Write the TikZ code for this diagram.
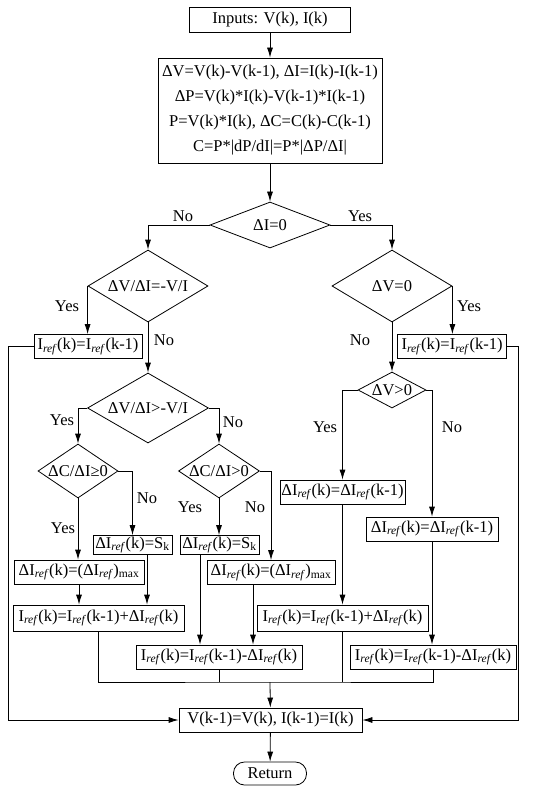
\documentclass[tikz,border=0pt]{standalone}
\usepackage{fontspec}
\setmainfont{Liberation Serif}
\usepackage{tikz}
\usetikzlibrary{shapes,arrows.meta,positioning}
\tikzset{
	box/.style = {
		draw, rectangle, line width=0.8pt, inner sep=1pt, minimum height=24pt
	}
}
\tikzset{
	decision/.style = {
		draw, diamond, line width=0.8pt, inner sep=0pt
	}
}
\tikzset{
	flow/.style = {
		line width=0.8pt, -{Latex[length=10pt,width=6pt]}
	}
}
\tikzset{
	wire/.style = {
		line width=0.8pt
	}
}
\tikzset{
	answer/.style = {
		inner sep=0pt
	}
}
\newcommand{\Iref}{I\textsubscript{\textit{ref}}}

\begin{document}
\begin{tikzpicture}[x=1pt, y=-1pt, font=\fontsize{16.5}{25}\selectfont]
	\useasboundingbox (0,0) rectangle (537,789);
	\node[box, minimum width=161pt, minimum height=25pt](inputs) at (270,19.5) {Inputs: V(k), I(k)};
	\node[box, minimum width=224pt, minimum height=105pt, align=center](deltas) at (270,110.5) {ΔV=V(k)-V(k-1), ΔI=I(k)-I(k-1)\\
		ΔP=V(k)*I(k)-V(k-1)*I(k-1)\\
		P=V(k)*I(k), ΔC=C(k)-C(k-1)\\
		C=P*|dP/dI|=P*|ΔP/ΔI|};
	\node[decision, minimum width=120pt, minimum height=46pt](dI) at (270,225) {\makebox[0pt]{ΔI=0}};
	\node[decision, minimum width=120pt, minimum height=72pt](dVI1) at (148,286) {\makebox[0pt]{ΔV/ΔI=-V/I}};
	\node[decision, minimum width=120pt, minimum height=72pt](dV0) at (392,286) {\makebox[0pt]{ΔV=0}};
	\node[box, minimum width=108pt](refL) at (88,346.5) {\Iref(k)=\Iref(k-1)};
	\node[box, minimum width=109pt](refR) at (452,346.5) {\Iref(k)=\Iref(k-1)};
	\node[decision, minimum width=121pt, minimum height=70pt](dVI2) at (148,408) {\makebox[0pt]{ΔV/ΔI>-V/I}};
	\node[decision, minimum width=68pt, minimum height=36pt](dV1) at (392,390) {\makebox[0pt]{ΔV>0}};
	\node[decision, minimum width=80pt, minimum height=54pt](dC1) at (78,471) {\makebox[0pt]{ΔC/ΔI≥0}};
	\node[decision, minimum width=81pt, minimum height=54pt](dC2) at (219,471) {\makebox[0pt]{ΔC/ΔI>0}};
	\node[box, minimum width=125pt](incY) at (342.5,492) {Δ\Iref(k)=Δ\Iref(k-1)};
	\node[box, minimum width=132pt](incN) at (432,529) {Δ\Iref(k)=Δ\Iref(k-1)};
	\node[box, minimum width=79pt, minimum height=19pt](skL) at (132.5,545) {Δ\Iref(k)=S\textsubscript{k}};
	\node[box, minimum width=79pt, minimum height=19pt](skR) at (219.5,545) {Δ\Iref(k)=S\textsubscript{k}};
	\node[box, minimum width=130pt](maxL) at (79,572) {Δ\Iref(k)=(Δ\Iref)\textsubscript{max}};
	\node[box, minimum width=128pt](maxR) at (271,572.5) {Δ\Iref(k)=(Δ\Iref)\textsubscript{max}};
	\node[box, minimum width=171pt, minimum height=26pt](plusL) at (98.5,618) {\Iref(k)=\Iref(k-1)+Δ\Iref(k)};
	\node[box, minimum width=171pt, minimum height=26pt](plusR) at (342.5,618) {\Iref(k)=\Iref(k-1)+Δ\Iref(k)};
	\node[box, minimum width=166pt](minusM) at (219,657) {\Iref(k)=\Iref(k-1)-Δ\Iref(k)};
	\node[box, minimum width=166pt](minusR) at (433,657) {\Iref(k)=\Iref(k-1)-Δ\Iref(k)};
	\node[box, minimum width=183pt](final) at (270.5,720) {V(k-1)=V(k), I(k-1)=I(k)};
	\node[box, rounded corners=11pt, minimum width=73pt, minimum height=23pt](return) at (270,773.5) {Return};

	\node[answer](noI) at (183,216) {No};
	\node[answer](yesI) at (360,216) {Yes};
	\node[answer](yesVI1) at (67,306) {Yes};
	\node[answer](noVI1) at (164,340) {No};
	\node[answer](yesV0) at (469,306) {Yes};
	\node[answer](noV0) at (360,340) {No};
	\node[answer](yesVI2) at (62,420) {Yes};
	\node[answer](noVI2) at (233,422) {No};
	\node[answer](noC1) at (147,498) {No};
	\node[answer](yesC1) at (63,528) {Yes};
	\node[answer](yesC2) at (190,507) {Yes};
	\node[answer](noC2) at (255,507) {No};
	\node[answer](yesV1) at (325,427) {Yes};
	\node[answer](noV1) at (452,427) {No};

	\coordinate (skLout) at ([xshift=14.5pt]skL.south);
	\coordinate (skRout) at ([xshift=-19.5pt]skR.south);
	\coordinate (maxRout) at ([xshift=-18pt]maxR.south);
	\coordinate (merge) at (270,682);
	\coordinate (loopL) at (8.5,720);
	\coordinate (loopR) at (518,720);

	\draw[flow] (inputs) -- (deltas);
	\draw[flow] (deltas) -- (dI);
	\draw[flow] (dI.west) -| (dVI1.north);
	\draw[flow] (dI.east) -| (dV0.north);
	\draw[flow] (dVI1.west) -- (dVI1.west |- refL.north);
	\draw[flow] (dVI1.south) -- (dVI2.north);
	\draw[flow] (dV0.east) -- (dV0.east |- refR.north);
	\draw[flow] (dV0.south) -- (dV1.north);
	\draw[flow] (dVI2.west) -| (dC1.north);
	\draw[flow] (dVI2.east) -| (dC2.north);
	\draw[flow] (dC1.east) -| (skL.north);
	\draw[flow] (dC1.south) -- (dC1.south |- maxL.north);
	\draw[flow] (dC2.south) -- (dC2.south |- skR.north);
	\draw[flow] (dC2.east) -| (maxR.north);
	\draw[flow] (dV1.west) -| (incY.north);
	\draw[flow] (dV1.east) -| (incN.north);
	\draw[flow] (maxL.south) -- (maxL.south |- plusL.north);
	\draw[flow] (skLout) -- (skLout |- plusL.north);
	\draw[flow] (skRout) -- (skRout |- minusM.north);
	\draw[flow] (maxRout) -- (maxRout |- minusM.north);
	\draw[flow] (incY.south) -- (incY.south |- plusR.north);
	\draw[flow] (incN.south) -- (incN.south |- minusR.north);
	\draw[wire] (plusL.south) |- (merge) -| (minusR.south);
	\draw[wire] (minusM.south) -- (minusM.south |- merge);
	\draw[wire] (plusR.south) -- (plusR.south |- merge);
	\draw[flow] (merge) -- (final);
	\draw[flow] (refL.west) -| (loopL) -- (final.west);
	\draw[flow] (refR.east) -| (loopR) -- (final.east);
	\draw[flow] (final) -- (return);
\end{tikzpicture}
\end{document}
